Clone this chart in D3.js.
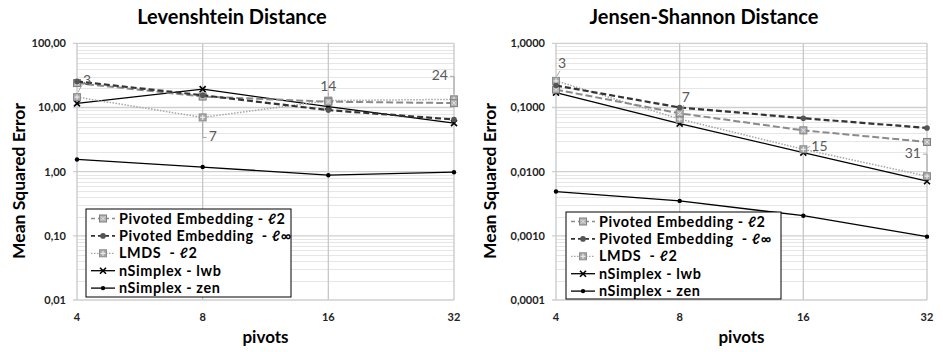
<!DOCTYPE html>
<html>
<head>
<meta charset="utf-8">
<script src="https://cdn.jsdelivr.net/npm/d3@7"></script>
<style>
  body { margin: 0; background: #fff; }
  svg { font-family: Lato, "Open Sans", sans-serif; }
  text { white-space: pre; }
</style>
</head>
<body>
<svg id="chart" width="943" height="352"></svg>
<script>
// x values shared by both charts
var pivots = [4, 8, 16, 32];
var seriesNames = ["Pivoted Embedding - \u21132", "Pivoted Embedding  - \u2113\u221e", "LMDS  - \u21132", "nSimplex - lwb", "nSimplex - zen"];

// Levenshtein distance
var levPivotedL2 = [24, 14.8, 12.3, 11.7];
var levPivotedLinf = [25.5, 15.5, 9.1, 6.5];
var levLmds = [14.5, 7.0, 12.8, 13.4];
var levLwb = [11.6, 19.3, 10.3, 5.7];
var levZen = [1.55, 1.18, 0.88, 0.98];
var levLabels = ["3", "7", "14", "24"];
var levTicks = [0.01, 0.1, 1, 10, 100];

// Jensen-Shannon distance
var jsPivotedL2 = [0.19, 0.081, 0.044, 0.029];
var jsPivotedLinf = [0.22, 0.10, 0.068, 0.048];
var jsLmds = [0.26, 0.066, 0.0223, 0.0085];
var jsLwb = [0.17, 0.056, 0.0198, 0.0071];
var jsZen = [0.0049, 0.0035, 0.00206, 0.00097];
var jsLabels = ["3", "7", "15", "31"];
var jsTicks = [0.0001, 0.001, 0.01, 0.1, 1];

var locale = d3.formatLocale({decimal: ",", thousands: ".", grouping: [3], currency: ["", "\u20ac"]});

var styles = [
  {stroke: "#8a8a8a", width: 2, dash: "7,3", marker: "sqx"},
  {stroke: "#333", width: 2.2, dash: "6,3", marker: "dot"},
  {stroke: "#a6a6a6", width: 1.5, dash: "1.5,1.5", marker: "sqp"},
  {stroke: "#000", width: 1.3, dash: null, marker: "x"},
  {stroke: "#000", width: 1.3, dash: null, marker: "smalldot"}
];

var svg = d3.select("#chart");

function drawMarker(g, kind, x, y) {
  if (kind == "sqx") {
    g.append("rect").attr("x", x - 3.5).attr("y", y - 3.5).attr("width", 7).attr("height", 7)
      .attr("fill", "#b4b4b4").attr("stroke", "#7f7f7f").attr("stroke-width", 1);
    g.append("path").attr("d", "M" + (x - 2) + "," + (y - 2) + "L" + (x + 2) + "," + (y + 2) + "M" + (x + 2) + "," + (y - 2) + "L" + (x - 2) + "," + (y + 2))
      .attr("stroke", "#e0e0e0").attr("stroke-width", 1);
  } else if (kind == "sqp") {
    g.append("rect").attr("x", x - 3.5).attr("y", y - 3.5).attr("width", 7).attr("height", 7)
      .attr("fill", "#a8a8a8").attr("stroke", "#8c8c8c").attr("stroke-width", 1);
    g.append("path").attr("d", "M" + x + "," + (y - 2.5) + "V" + (y + 2.5) + "M" + (x - 2.5) + "," + y + "H" + (x + 2.5))
      .attr("stroke", "#e8e8e8").attr("stroke-width", 1.2);
  } else if (kind == "dot") {
    g.append("circle").attr("cx", x).attr("cy", y).attr("r", 2.8).attr("fill", "#555");
  } else if (kind == "x") {
    g.append("path").attr("d", "M" + (x - 3) + "," + (y - 3) + "L" + (x + 3) + "," + (y + 3) + "M" + (x + 3) + "," + (y - 3) + "L" + (x - 3) + "," + (y + 3))
      .attr("stroke", "#000").attr("stroke-width", 1.6);
  } else {
    g.append("circle").attr("cx", x).attr("cy", y).attr("r", 2.2).attr("fill", "#000");
  }
}

function drawChart(opts) {
  var g = svg.append("g");
  var x = d3.scaleLog().base(2).domain([4, 32]).range([opts.x0, opts.x1]);
  var y = d3.scaleLog().domain([opts.ticks[0], opts.ticks[opts.ticks.length - 1]]).range([opts.yBot, opts.yTop]);
  var fmt = locale.format(opts.fmt);

  // minor horizontal gridlines
  var minor = [];
  for (var i = 0; i < opts.ticks.length - 1; i++) {
    for (var k = 2; k < 10; k++) minor.push(opts.ticks[i] * k);
  }
  g.selectAll(".minor").data(minor).enter().append("line")
    .attr("x1", opts.x0).attr("x2", opts.x1)
    .attr("y1", function(d) { return Math.round(y(d)) + 0.5; })
    .attr("y2", function(d) { return Math.round(y(d)) + 0.5; })
    .attr("stroke", "#e6e6e6").attr("stroke-width", 1);

  // major horizontal gridlines
  g.selectAll(".major").data(opts.ticks).enter().append("line")
    .attr("x1", opts.x0 - 4).attr("x2", opts.x1)
    .attr("y1", function(d) { return y(d); })
    .attr("y2", function(d) { return y(d); })
    .attr("stroke", "#cfcfcf").attr("stroke-width", 1.3);

  // vertical gridlines
  g.selectAll(".vgrid").data(pivots).enter().append("line")
    .attr("x1", function(d) { return x(d); }).attr("x2", function(d) { return x(d); })
    .attr("y1", opts.yTop).attr("y2", opts.yBot)
    .attr("stroke", "#c8c8c8").attr("stroke-width", 1.3);

  // y tick labels
  g.selectAll(".ylab").data(opts.ticks).enter().append("text")
    .attr("x", opts.x0 - 11).attr("y", function(d) { return y(d); })
    .attr("dy", "0.35em").attr("text-anchor", "end")
    .attr("font-size", 11).attr("font-weight", "bold").attr("fill", "#222")
    .text(function(d) { return fmt(d); });

  // x tick labels
  g.selectAll(".xlab").data(pivots).enter().append("text")
    .attr("x", function(d) { return x(d); }).attr("y", opts.yBot + 17)
    .attr("dy", "0.35em").attr("text-anchor", "middle")
    .attr("font-size", 11).attr("font-weight", "bold").attr("fill", "#222")
    .text(function(d) { return d; });

  // titles
  g.append("text").attr("x", opts.titleX).attr("y", 17).attr("dy", "0.35em")
    .attr("text-anchor", "middle").attr("font-size", 20).attr("font-weight", "bold")
    .text(opts.title);
  g.append("text").attr("x", (opts.x0 + opts.x1) / 2).attr("y", 337).attr("dy", "0.35em")
    .attr("text-anchor", "middle").attr("font-size", 17).attr("font-weight", "bold")
    .text("pivots");
  g.append("text").attr("transform", "translate(" + opts.yLabelX + ",181) rotate(-90)")
    .attr("dy", "0.35em").attr("text-anchor", "middle").attr("font-size", 17.5).attr("font-weight", "bold")
    .text("Mean Squared Error");

  // series lines
  var line = d3.line()
    .x(function(d, i) { return x(pivots[i]); })
    .y(function(d) { return y(d); });

  var order = [4, 3, 2, 0, 1];
  order.forEach(function(s) {
    var vals = opts.series[s];
    var st = styles[s];
    g.append("path").attr("d", line(vals)).attr("fill", "none")
      .attr("stroke", st.stroke).attr("stroke-width", st.width)
      .attr("stroke-dasharray", st.dash);
    vals.forEach(function(v, i) {
      drawMarker(g, st.marker, x(pivots[i]), y(v));
    });
  });

  // data labels on the LMDS series
  var lmds = opts.series[2];
  opts.labels.forEach(function(lab, i) {
    var px = x(pivots[i]);
    var py = y(lmds[i]);
    var off = opts.labelOffsets[i];
    g.append("path").attr("d", off.leader(px, py)).attr("fill", "none")
      .attr("stroke", "#a6a6a6").attr("stroke-width", 1);
    g.append("text").attr("x", px + off.dx).attr("y", py + off.dy)
      .attr("text-anchor", off.anchor).attr("font-size", 14).attr("fill", "#595959")
      .text(lab);
  });

  // legend
  var lg = g.append("g");
  lg.append("rect").attr("x", opts.legend[0]).attr("y", opts.legend[1])
    .attr("width", opts.legend[2]).attr("height", opts.legend[3])
    .attr("fill", "#fff").attr("stroke", "#000").attr("stroke-width", 1);
  seriesNames.forEach(function(name, i) {
    var ly = opts.legend[1] + 9.5 + i * 17.4;
    var lx = opts.legend[0] + 5;
    var st = styles[i];
    lg.append("line").attr("x1", lx).attr("x2", lx + 24).attr("y1", ly).attr("y2", ly)
      .attr("stroke", st.stroke).attr("stroke-width", st.width > 2 ? 1.8 : 1.3)
      .attr("stroke-dasharray", st.dash ? (st.marker == "sqp" ? "1.5,1.5" : "4,3") : null);
    drawMarker(lg, st.marker, lx + 12, ly);
    lg.append("text").attr("x", lx + 28).attr("y", ly).attr("dy", "0.35em")
      .attr("font-size", 14.4).attr("letter-spacing", 0.6).attr("font-weight", "bold").attr("fill", "#000")
      .text(name);
  });
}

drawChart({
  title: "Levenshtein Distance", titleX: 232,
  x0: 77, x1: 454, yTop: 43.3, yBot: 300, yLabelX: 19,
  ticks: levTicks, fmt: ".2f",
  series: [levPivotedL2, levPivotedLinf, levLmds, levLwb, levZen],
  labels: levLabels,
  labelOffsets: [
    {dx: 6, dy: -12, anchor: "start", leader: function(px, py) { return "M" + (px + 1) + "," + (py - 5) + "L" + (px + 5) + "," + (py - 12); }},
    {dx: 6, dy: 24, anchor: "start", leader: function(px, py) { return "M" + px + "," + (py + 5) + "V" + (py + 20) + "H" + (px + 4); }},
    {dx: 0, dy: -10, anchor: "middle", leader: function(px, py) { return "M" + px + "," + (py - 5) + "V" + (py - 8); }},
    {dx: -6, dy: -19, anchor: "end", leader: function(px, py) { return "M" + (px - 4) + "," + (py - 23) + "H" + px + "V" + (py - 5); }}
  ],
  legend: [86, 209, 205, 88]
});

drawChart({
  title: "Jensen-Shannon Distance", titleX: 704,
  x0: 556, x1: 927, yTop: 43.3, yBot: 300, yLabelX: 490,
  ticks: jsTicks, fmt: ".4f",
  series: [jsPivotedL2, jsPivotedLinf, jsLmds, jsLwb, jsZen],
  labels: jsLabels,
  labelOffsets: [
    {dx: 2, dy: -13, anchor: "start", leader: function(px, py) { return "M" + (px + 1) + "," + (py - 5) + "L" + (px + 4) + "," + (py - 10); }},
    {dx: 2, dy: -17, anchor: "start", leader: function(px, py) { return "M" + (px + 2) + "," + (py - 5) + "L" + (px + 4) + "," + (py - 14); }},
    {dx: 8, dy: 2, anchor: "start", leader: function(px, py) { return "M" + (px + 3) + "," + (py - 1) + "L" + (px + 7) + "," + (py - 3); }},
    {dx: -6, dy: -18, anchor: "end", leader: function(px, py) { return "M" + (px - 4) + "," + (py - 22) + "H" + px + "V" + (py - 5); }}
  ],
  legend: [566, 212, 215, 87]
});
</script>
</body>
</html>
